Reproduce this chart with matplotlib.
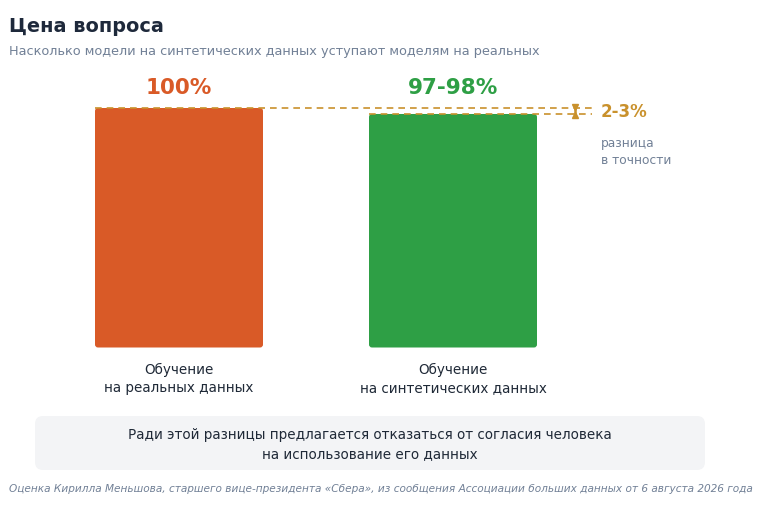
import matplotlib.pyplot as plt
from matplotlib.patches import FancyBboxPatch

# --- data ---
categories = ['Обучение\nна реальных данных', 'Обучение\nна синтетических данных']
values = [100, 97.5]
value_labels = ['100%', '97-98%']
bar_colors = ['#d95a27', '#2e9f45']
gap_label = '2-3%'
gap_note = 'разница\nв точности'

title = 'Цена вопроса'
subtitle = 'Насколько модели на синтетических данных уступают моделям на реальных'
box_text = 'Ради этой разницы предлагается отказаться от согласия человека\nна использование его данных'
footnote = ('Оценка Кирилла Меньшова, старшего вице-президента «Сбера», '
            'из сообщения Ассоциации больших данных от 6 августа 2026 года')

GOLD = '#c9912c'
DARK = '#1f2937'
GREY = '#718096'

W, H = 760, 506
fig = plt.figure(figsize=(W / 100, H / 100), dpi=100)

# overlay axes in pixel coordinates (for the note box)
ov = fig.add_axes([0, 0, 1, 1], zorder=0)
ov.set_xlim(0, W)
ov.set_ylim(H, 0)
ov.axis('off')
ov.add_patch(FancyBboxPatch((35, 417), 670, 54, boxstyle='round,pad=0,rounding_size=8',
                            facecolor='#f3f4f6', edgecolor='none'))

# main axes: one x unit = 274 px, one y unit = 2.395 px, baseline at y=348.5 px
xpx, ypx = 274, 2.395
x0, base = 179, 348.5
ax = fig.add_axes([0, 0, 1, 1], zorder=1)
ax.patch.set_alpha(0)
ax.set_xlim(-x0 / xpx, (W - x0) / xpx)
ax.set_ylim(-(H - base) / ypx, base / ypx)
ax.axis('off')

xs = list(range(len(values)))
bar_w = 168 / xpx
bars = ax.bar(xs, values, width=bar_w, color=bar_colors)
for b in bars:
    b.set_visible(False)
    r = 3 / xpx
    ax.add_patch(FancyBboxPatch((b.get_x(), b.get_y()), b.get_width(), b.get_height(),
                                boxstyle=f'round,pad=0,rounding_size={r}',
                                mutation_aspect=xpx / ypx,
                                facecolor=b.get_facecolor(), edgecolor='none', zorder=2))

label_y = (base - 88) / ypx
for x, lab, c in zip(xs, value_labels, bar_colors):
    ax.text(x, label_y, lab, ha='center', va='center', fontsize=15.5,
            fontweight='bold', color=c)

for x, cat in zip(xs, categories):
    ax.text(x, -(379 - base) / ypx, cat, ha='center', va='center', fontsize=9.75,
            color=DARK, linespacing=1.4)

# gap lines
x_end = (592 - x0) / xpx
ax.hlines(values[0], xs[0] - bar_w / 2, x_end, colors=GOLD, linestyles=(0, (4, 3)),
          linewidth=1.2, zorder=3)
ax.hlines(values[1], xs[1] - bar_w / 2, x_end, colors=GOLD, linestyles=(0, (4, 3)),
          linewidth=1.2, zorder=3)
xb = (575 - x0) / xpx
ext = 1.5 / ypx
ax.plot([xb, xb], [values[1] - ext, values[0] + ext], color=GOLD, linewidth=1.8, zorder=4)
ax.plot([xb], [values[0] + ext], marker='v', markersize=4.5, color=GOLD, zorder=4)
ax.plot([xb], [values[1] - ext], marker='^', markersize=4.5, color=GOLD, zorder=4)
ax.text((601 - x0) / xpx, (values[0] + values[1]) / 2, gap_label, ha='left', va='center',
        fontsize=12, fontweight='bold', color=GOLD)
ax.text((601 - x0) / xpx, (base - 152) / ypx, gap_note, ha='left', va='center',
        fontsize=8.8, color=GREY, linespacing=1.45)

# titles and notes
def fx(p):
    return p / W

def fy(p):
    return 1 - p / H

fig.text(fx(9), fy(27), title, ha='left', va='center', fontsize=13.9,
         fontweight='bold', color='#1e293b')
fig.text(fx(9), fy(51), subtitle, ha='left', va='center', fontsize=9.27, color=GREY)
fig.text(fx(370), fy(444.5), box_text, ha='center', va='center', fontsize=9.75,
         color=DARK, linespacing=1.4)
fig.text(fx(9), fy(489), footnote, ha='left', va='center', fontsize=7.6,
         style='italic', color=GREY)

fig.savefig('out.png', dpi=100)
